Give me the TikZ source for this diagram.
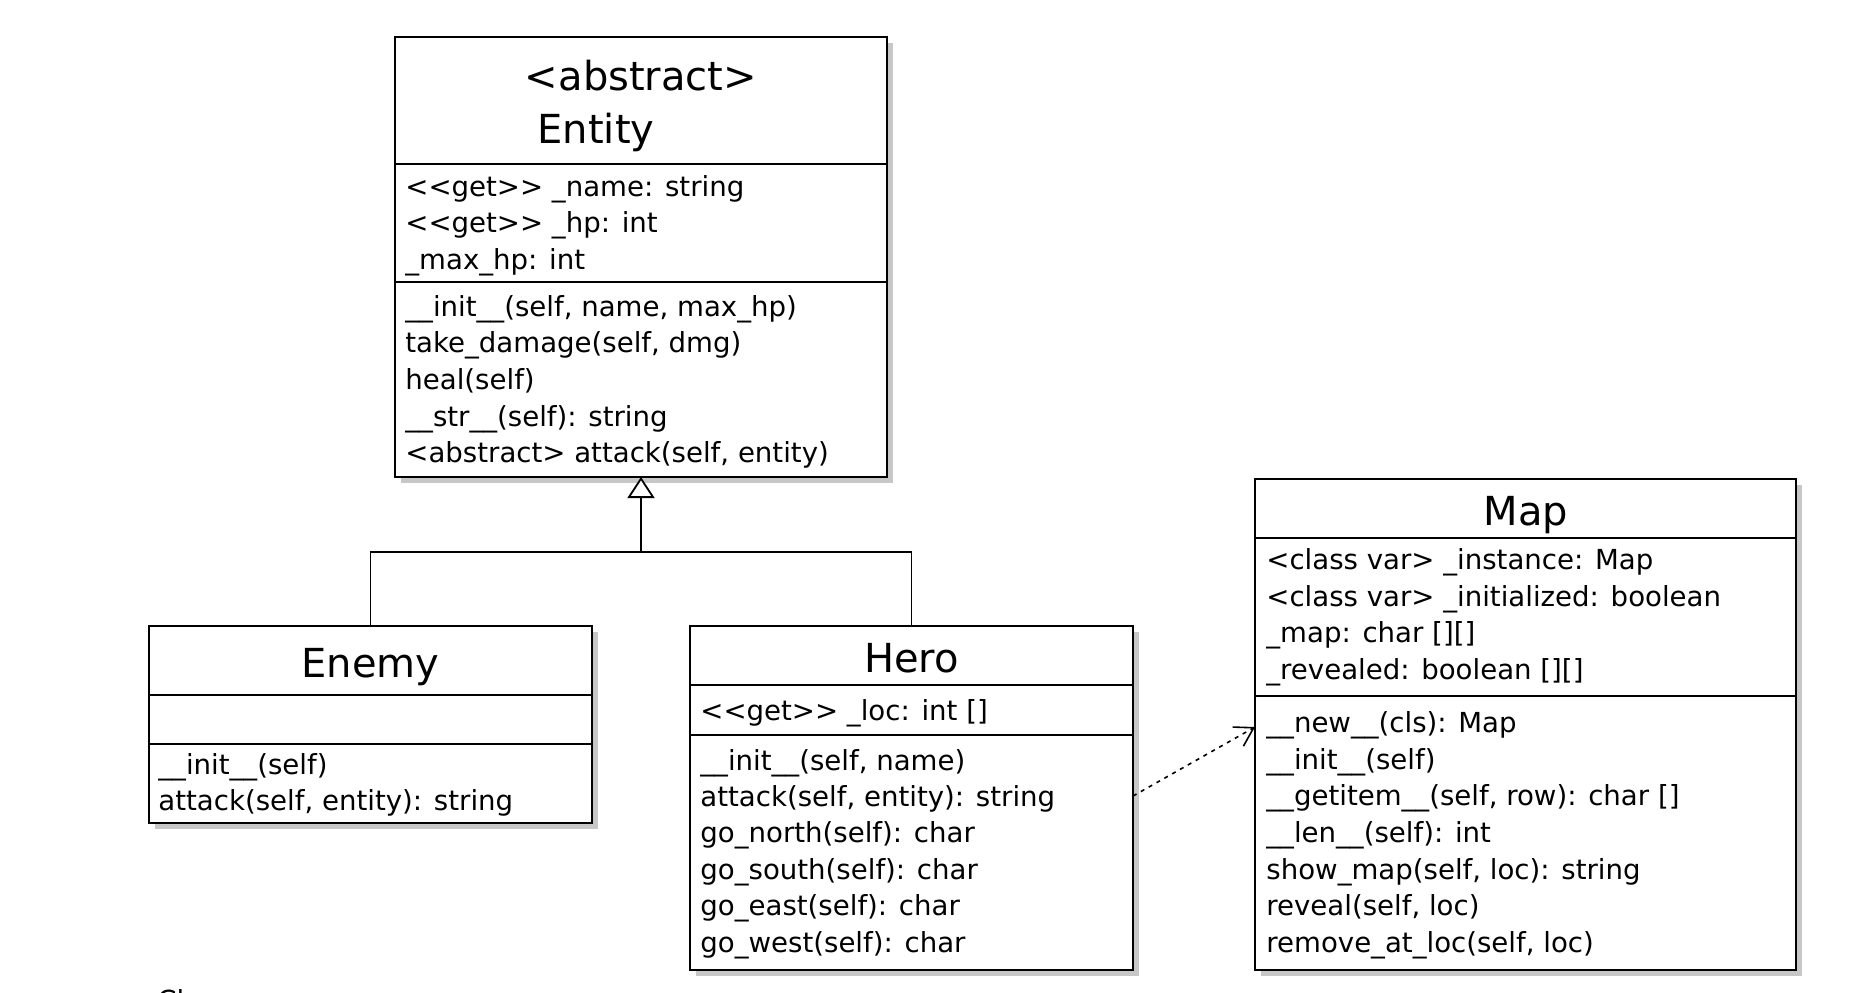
\documentclass[tikz,border=0pt]{standalone}
\usepackage{fontspec}
\newfontfamily\umlfont{DejaVu Sans}
\usetikzlibrary{arrows.meta,shadows,calc}
\begin{document}
\begin{tikzpicture}[x=0.5pt,y=-0.5pt,
  cls/.style={draw=black, line width=1pt, fill=white, inner sep=0pt, outer sep=0pt, anchor=north west,
    general shadow={fill=black!22, shadow xshift=3pt, shadow yshift=-3pt}},
  title/.style={font=\umlfont\fontsize{20}{24}\selectfont, anchor=base, inner sep=0pt},
  item/.style={font=\umlfont\fontsize{13.8}{16}\selectfont, anchor=base west, inner sep=0pt},
  divider/.style={line width=1pt},
  gen/.style={line width=0.9pt},
  dep/.style={line width=0.8pt, dash pattern=on 2pt off 2.5pt,
    -{Straight Barb[length=9pt,width=11pt,line width=0.8pt]}}
]
\useasboundingbox (0,0) rectangle (1856,992);

% ---------- Entity ----------
\node[cls, minimum width=246pt, minimum height=220pt] (entity) at (395,37) {};
\draw[divider] (395,164) -- (887,164);
\draw[divider] (395,282) -- (887,282);
\node[title] (entStereo) at (641,90) {<abstract>};
\node[title] (entName) at (596,143) {Entity};
\node[item] (ea1) at (405,196) {<<get>> \_name: string};
\node[item] (ea2) at (405,232) {<<get>> \_hp: int};
\node[item] (ea3) at (405,269) {\_max\_hp: int};
\node[item] (em1) at (405,316) {\_\_init\_\_(self, name, max\_hp)};
\node[item] (em2) at (405,352) {take\_damage(self, dmg)};
\node[item] (em3) at (405,389) {heal(self)};
\node[item] (em4) at (405,426) {\_\_str\_\_(self): string};
\node[item] (em5) at (405,462) {<abstract> attack(self, entity)};

% ---------- Enemy ----------
\node[cls, minimum width=221.5pt, minimum height=98.5pt] (enemy) at (149,626) {};
\draw[divider] (149,695) -- (592,695);
\draw[divider] (149,744) -- (592,744);
\node[title] (enName) at (370.5,677) {Enemy};
\node[item] (nm1) at (158,774) {\_\_init\_\_(self)};
\node[item] (nm2) at (158,810) {attack(self, entity): string};

% ---------- Hero ----------
\node[cls, minimum width=221.5pt, minimum height=172pt] (hero) at (690,626) {};
\draw[divider] (690,685) -- (1133,685);
\draw[divider] (690,735) -- (1133,735);
\node[title] (heName) at (911.5,672) {Hero};
\node[item] (ha1) at (700,720) {<<get>> \_loc: int []};
\node[item] (hm1) at (700,770) {\_\_init\_\_(self, name)};
\node[item] (hm2) at (700,806) {attack(self, entity): string};
\node[item] (hm3) at (700,842) {go\_north(self): char};
\node[item] (hm4) at (700,879) {go\_south(self): char};
\node[item] (hm5) at (700,915) {go\_east(self): char};
\node[item] (hm6) at (700,952) {go\_west(self): char};

% ---------- Map ----------
\node[cls, minimum width=270.5pt, minimum height=245.5pt] (map) at (1255,479) {};
\draw[divider] (1255,538) -- (1796,538);
\draw[divider] (1255,696) -- (1796,696);
\node[title] (mpName) at (1526,525) {Map};
\node[item] (ma1) at (1266,569) {<class var> \_instance: Map};
\node[item] (ma2) at (1266,606) {<class var> \_initialized: boolean};
\node[item] (ma3) at (1266,642) {\_map: char [][]};
\node[item] (ma4) at (1266,679) {\_revealed: boolean [][]};
\node[item] (mm1) at (1266,732) {\_\_new\_\_(cls): Map};
\node[item] (mm2) at (1266,769) {\_\_init\_\_(self)};
\node[item] (mm3) at (1266,805) {\_\_getitem\_\_(self, row): char []};
\node[item] (mm4) at (1266,842) {\_\_len\_\_(self): int};
\node[item] (mm5) at (1266,879) {show\_map(self, loc): string};
\node[item] (mm6) at (1266,915) {reveal(self, loc)};
\node[item] (mm7) at (1266,952) {remove\_at\_loc(self, loc)};

% ---------- connectors ----------
\coordinate (j) at (entity.south |- 0,552);
\draw[gen] (enemy.north) |- (j) -| (hero.north);
\draw[gen, -{Triangle[open, length=10.5pt, width=13.5pt, line width=0.9pt, fill=white]}] (j) -- (entity.south);

\coordinate (ds) at ($(hero.north east)+(0,170)$);
\coordinate (dt) at ($(map.north west)+(0,248)$);
\draw[dep] (ds) -- (dt);

% cut-off caption at the bottom edge
\node[item] (cl) at (157,1010) {Cl};
\end{tikzpicture}
\end{document}
